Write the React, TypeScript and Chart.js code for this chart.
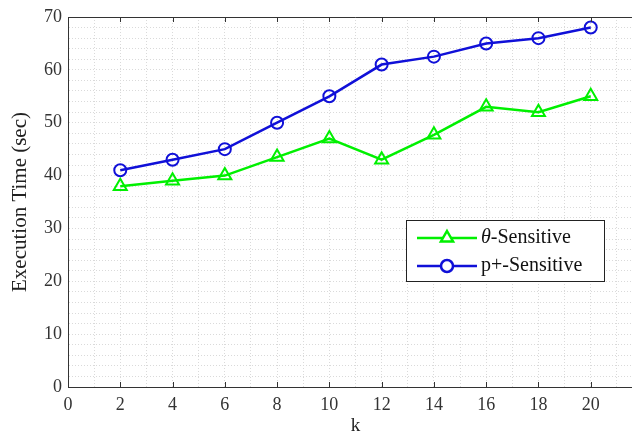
import React, { useEffect, useRef } from "react";
import { Chart, registerables } from "chart.js";

Chart.register(...registerables);

const kValues = [2, 4, 6, 8, 10, 12, 14, 16, 18, 20];
const thetaSensitive = [38, 39, 40, 43.5, 47, 43, 47.7, 53, 52, 55];
const pSensitive = [41, 43, 45, 50, 55, 61, 62.5, 65, 66, 68];
const xTickLabels = [0, 2, 4, 6, 8, 10, 12, 14, 16, 18, 20];
const yTickLabels = [0, 10, 20, 30, 40, 50, 60, 70];
const legendLabels = ["θ", "-Sensitive", "p+-Sensitive"];

const GREEN = "#00f000";
const BLUE = "#1010d8";
const FONT = "'Liberation Serif', 'Times New Roman', serif";

const frameAndLegend = {
  id: "frameAndLegend",
  afterDraw(chart: any) {
    const { ctx, chartArea } = chart;
    const xs = chart.scales.x;
    ctx.save();
    ctx.strokeStyle = "#333";
    ctx.lineWidth = 1;
    ctx.beginPath();
    ctx.moveTo(chartArea.left, chartArea.top + 0.5);
    ctx.lineTo(chartArea.right, chartArea.top + 0.5);
    ctx.moveTo(chartArea.right - 0.5, chartArea.top);
    ctx.lineTo(chartArea.right - 0.5, chartArea.bottom);
    ctx.stroke();
    ctx.beginPath();
    xTickLabels.forEach((v) => {
      if (v === 0) return;
      const px = Math.round(xs.getPixelForValue(v)) + 0.5;
      ctx.moveTo(px, chartArea.bottom);
      ctx.lineTo(px, chartArea.bottom - 5);
      ctx.moveTo(px, chartArea.top);
      ctx.lineTo(px, chartArea.top + 5);
    });
    ctx.stroke();

    const bx = 406, by = 220, bw = 198, bh = 61;
    ctx.fillStyle = "#fff";
    ctx.fillRect(bx, by, bw, bh);
    ctx.strokeStyle = "#222";
    ctx.strokeRect(bx + 0.5, by + 0.5, bw, bh);
    const rows = [
      { y: 238, color: GREEN, tri: true },
      { y: 266, color: BLUE, tri: false },
    ];
    rows.forEach((r) => {
      ctx.strokeStyle = r.color;
      ctx.lineWidth = 2.5;
      ctx.beginPath();
      ctx.moveTo(417, r.y);
      ctx.lineTo(477, r.y);
      ctx.stroke();
      ctx.beginPath();
      if (r.tri) {
        const rad = 7;
        ctx.moveTo(447, r.y - rad);
        ctx.lineTo(447 + rad * 0.866, r.y + rad * 0.5);
        ctx.lineTo(447 - rad * 0.866, r.y + rad * 0.5);
        ctx.closePath();
      } else {
        ctx.arc(447, r.y, 6, 0, Math.PI * 2);
      }
      ctx.fillStyle = "#fff";
      ctx.fill();
      ctx.stroke();
    });
    ctx.fillStyle = "#111";
    ctx.textBaseline = "middle";
    ctx.textAlign = "left";
    ctx.font = `italic 20px ${FONT}`;
    ctx.fillText(legendLabels[0], 481, rows[0].y);
    const w = ctx.measureText(legendLabels[0]).width;
    ctx.font = `20px ${FONT}`;
    ctx.fillText(legendLabels[1], 481 + w, rows[0].y);
    ctx.fillText(legendLabels[2], 481, rows[1].y);
    ctx.restore();
  },
};

export default function App() {
  const ref = useRef<HTMLCanvasElement>(null);
  useEffect(() => {
    if (!ref.current) return;
    const chart = new Chart(ref.current, {
      type: "line",
      data: {
        datasets: [
          {
            label: "θ-Sensitive",
            data: kValues.map((k, i) => ({ x: k, y: thetaSensitive[i] })),
            borderColor: GREEN,
            backgroundColor: "rgba(0,0,0,0)",
            borderWidth: 2.5,
            pointStyle: "triangle",
            pointRadius: 7.5,
            pointBorderWidth: 2,
            pointBorderColor: GREEN,
            pointBackgroundColor: "rgba(0,0,0,0)",
            tension: 0,
          },
          {
            label: "p+-Sensitive",
            data: kValues.map((k, i) => ({ x: k, y: pSensitive[i] })),
            borderColor: BLUE,
            backgroundColor: "rgba(0,0,0,0)",
            borderWidth: 2.5,
            pointStyle: "circle",
            pointRadius: 6,
            pointBorderWidth: 2,
            pointBorderColor: BLUE,
            pointBackgroundColor: "rgba(0,0,0,0)",
            tension: 0,
          },
        ],
      },
      options: {
        responsive: false,
        animation: false,
        layout: { padding: { left: 0, right: 17, top: 17, bottom: 0 } },
        plugins: { legend: { display: false }, tooltip: { enabled: false } },
        scales: {
          x: {
            type: "linear",
            min: 0,
            max: 22,
            afterFit: (s: any) => {
              s.height = 440 - 387;
            },
            ticks: {
              stepSize: 1,
              autoSkip: false,
              maxRotation: 0,
              padding: 7,
              color: "#333",
              font: { family: FONT, size: 18 },
              callback: (v: any) => (xTickLabels.includes(v) ? String(v) : ""),
            },
            grid: { color: "#dadada", drawTicks: false, lineWidth: 1 },
            border: { display: true, color: "#333", width: 1, dash: [1, 2] },
            title: {
              display: true,
              text: "k",
              color: "#222",
              font: { family: FONT, size: 19 },
              padding: { top: 0, bottom: 3 },
            },
          },
          y: {
            type: "linear",
            min: 0,
            max: 70,
            afterFit: (s: any) => {
              s.width = 68;
            },
            ticks: {
              stepSize: 2,
              autoSkip: false,
              padding: 6,
              color: "#333",
              font: { family: FONT, size: 18 },
              callback: (v: any) => (yTickLabels.includes(v) ? String(v) : ""),
            },
            grid: { color: "#dadada", drawTicks: false, lineWidth: 1 },
            border: { display: true, color: "#333", width: 1, dash: [1, 2] },
            title: {
              display: true,
              text: "Execution Time (sec)",
              color: "#222",
              font: { family: FONT, size: 21 },
              padding: { top: 8, bottom: 0 },
            },
          },
        },
      },
      plugins: [frameAndLegend],
    });
    return () => chart.destroy();
  }, []);
  return (
    <div
      style={{
        position: "absolute",
        left: 0,
        top: 0,
        width: 632,
        height: 434,
        overflow: "hidden",
        background: "#fff",
      }}
    >
      <canvas ref={ref} width={660} height={440} />
    </div>
  );
}
